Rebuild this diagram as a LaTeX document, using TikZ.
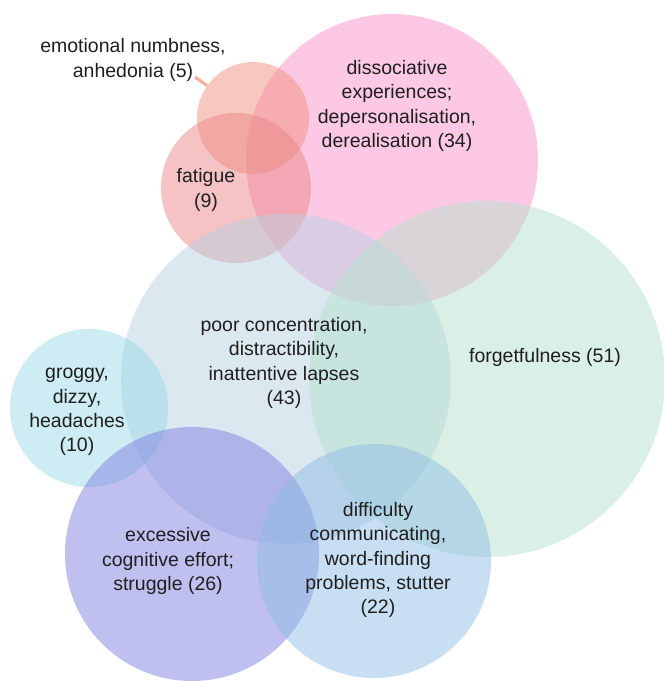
\documentclass[tikz,border=0pt]{standalone}
\usepackage{fontspec}
\setmainfont{Liberation Sans}
\begin{document}
\begin{tikzpicture}[x=1pt,y=-1pt,
  venn/.style={circle,inner sep=0pt,minimum size=#1,fill opacity=0.5,draw=none},
  lbl/.style={align=center,text=black!88,inner sep=0pt,font=\fontsize{19.5}{24.2}\selectfont}]
\useasboundingbox (0,0) rectangle (664,681);
\definecolor{cpink}{RGB}{249,145,201}
\definecolor{cemo}{RGB}{241,145,125}
\definecolor{cfat}{RGB}{235,135,135}
\definecolor{cconc}{RGB}{185,209,225}
\definecolor{cgreen}{RGB}{181,225,205}
\definecolor{cgrog}{RGB}{155,217,233}
\definecolor{cpurp}{RGB}{129,129,225}
\definecolor{cblue}{RGB}{145,189,229}
% circles
\node[venn=292pt,fill=cpink] (diss) at (392,160) {};
\node[venn=112pt,fill=cemo] (emo) at (253,118) {};
\node[venn=150pt,fill=cfat] (fat) at (236,188) {};
\node[venn=330pt,fill=cconc] (conc) at (286,379) {};
\node[venn=356pt,fill=cgreen] (forg) at (487,379) {};
\node[venn=158pt,fill=cgrog] (grog) at (89,408) {};
\node[venn=254pt,fill=cpurp] (effort) at (192,554) {};
\node[venn=234pt,fill=cblue] (comm) at (374,561) {};
% labels
\node[lbl] (emolbl) at (133,60) {emotional numbness,\\anhedonia (5)};
\coordinate (lead) at (195,77);
\draw[cemo,line width=3pt,opacity=0.75] (lead) -- (emo);
\node[lbl] (disslbl) at (397,106) {dissociative\\experiences;\\depersonalisation,\\derealisation (34)};
\node[lbl] (fatlbl) at (206,190) {fatigue\\(9)};
\node[lbl] (conclbl) at (284,363) {poor concentration,\\distractibility,\\inattentive lapses\\(43)};
\node[lbl] (forglbl) at (545,357) {forgetfulness (51)};
\node[lbl] (groglbl) at (77,412) {groggy,\\dizzy,\\headaches\\(10)};
\node[lbl] (effortlbl) at (168,561) {excessive\\cognitive effort;\\struggle (26)};
\node[lbl] (commlbl) at (378,560) {difficulty\\communicating,\\word-finding\\problems, stutter\\(22)};
\end{tikzpicture}
\end{document}
